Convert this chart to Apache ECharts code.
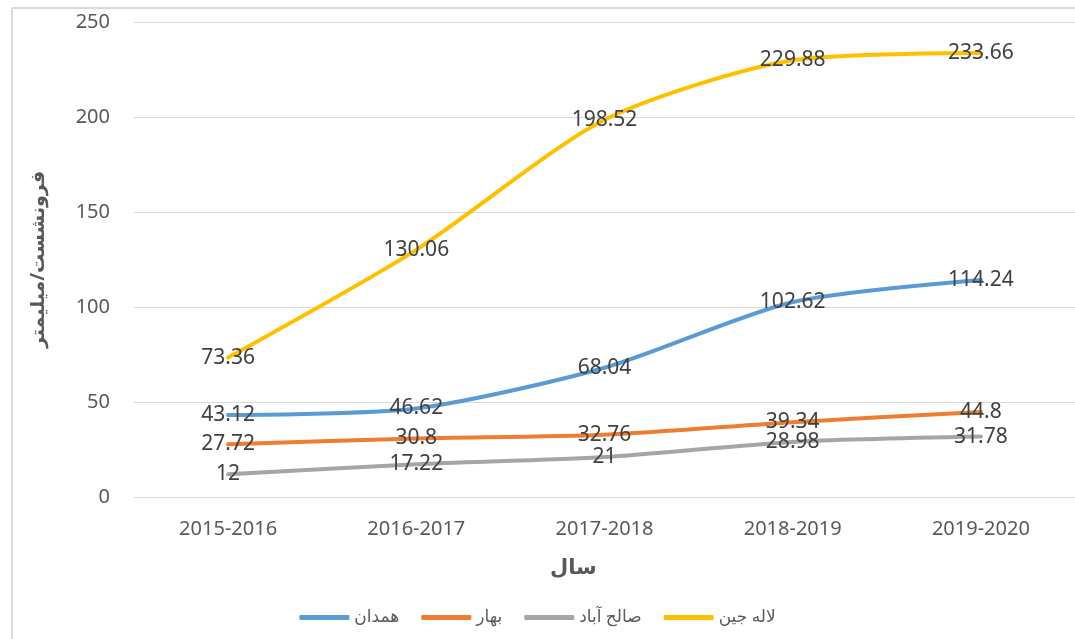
<!DOCTYPE html>
<html><head><meta charset="utf-8">
<script src="https://cdn.jsdelivr.net/npm/echarts@6/dist/echarts.min.js"></script>
<style>html,body{margin:0;padding:0;background:#fff}#c{width:1075px;height:639px}</style>
</head><body><div id="c"></div>
<script>
const categories = ['2015-2016','2016-2017','2017-2018','2018-2019','2019-2020'];
const seriesNames = ['همدان','بهار','صالح آباد','لاله جین'];
const hamedan = [43.12, 46.62, 68.04, 102.62, 114.24];
const bahar = [27.72, 30.8, 32.76, 39.34, 44.8];
const salehabad = [12, 17.22, 21, 28.98, 31.78];
const lalejin = [73.36, 130.06, 198.52, 229.88, 233.66];
const colors = ['#5B9BD5','#ED7D31','#A5A5A5','#FFC000'];
const xTitle = 'سال';
const yTitle = 'فرونشست/میلیمتر';

const FONT = '"Noto Sans", "DejaVu Sans", sans-serif';
const chart = echarts.init(document.getElementById('c'));
const datas = [hamedan, bahar, salehabad, lalejin];
chart.setOption({
  animation: false,
  color: colors,
  textStyle: {fontFamily: FONT},
  title: {text: xTitle, left: 545, top: 553, textStyle: {fontFamily: FONT, fontSize: 21, fontWeight: 'bold', color: '#595959'}},
  graphic: [
    {type: 'line', shape: {x1: 12, y1: 8, x2: 1075, y2: 8}, style: {stroke: '#d9d9d9', lineWidth: 2}, silent: true},
    {type: 'line', shape: {x1: 12, y1: 8, x2: 12, y2: 639}, style: {stroke: '#d9d9d9', lineWidth: 2}, silent: true}
  ],
  legend: {
    data: seriesNames.map((n, i) => ({name: n, icon: 'roundRect', itemStyle: {color: colors[i], opacity: 1, borderWidth: 0}})),
    bottom: 8, left: 'center', itemWidth: 50, itemHeight: 5, itemGap: 22,
    textStyle: {fontFamily: FONT, fontSize: 17, color: '#595959'}
  },
  grid: {left: 134, right: -1, top: 22, bottom: 142, containLabel: false},
  xAxis: {
    type: 'category', data: categories, boundaryGap: true,
    axisLine: {lineStyle: {color: '#d9d9d9', width: 1}},
    axisTick: {show: false},
    axisLabel: {fontSize: 20, color: '#595959', margin: 22, fontFamily: FONT}
  },
  yAxis: {
    type: 'value', min: 0, max: 250, interval: 50,
    name: yTitle, nameLocation: 'middle', nameRotate: 90, nameGap: 86,
    nameTextStyle: {fontFamily: FONT, fontSize: 19, fontWeight: 'bold', color: '#595959'},
    axisLine: {show: false}, axisTick: {show: false},
    splitLine: {lineStyle: {color: '#d9d9d9', width: 1}},
    axisLabel: {fontSize: 20, color: '#595959', margin: 24, fontFamily: FONT}
  },
  series: seriesNames.map((n, i) => ({
    name: n, type: 'line', data: datas[i], smooth: 0.25, showSymbol: true, symbol: 'circle', symbolSize: 0.1,
    itemStyle: {color: colors[i]},
    lineStyle: {width: 4, color: colors[i], cap: 'round'},
    label: {show: true, position: 'inside', fontSize: 21, color: '#404040', fontFamily: FONT,
      formatter: p => String(p.value)},
    labelLayout: {hideOverlap: false}
  }))
});
</script></body></html>
